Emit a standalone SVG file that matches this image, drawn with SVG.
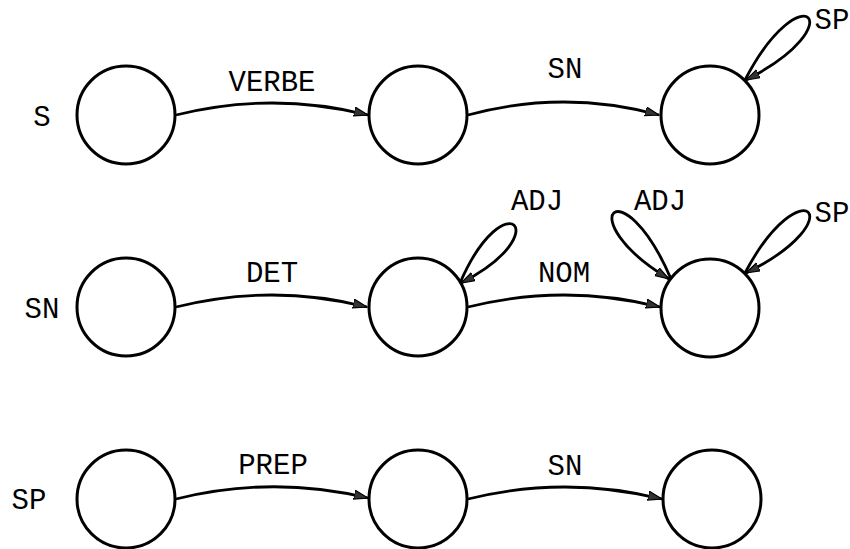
<svg xmlns="http://www.w3.org/2000/svg" width="850" height="549" viewBox="0 0 850 549">
<style>
.st{fill:none;stroke:#000;stroke-width:3}
.ed{fill:none;stroke:#000;stroke-width:2.8;marker-end:url(#ah)}
.t{font-family:"Liberation Mono","DejaVu Sans Mono",monospace;font-size:29px;fill:#000;text-anchor:middle}
</style>
<defs>
<marker id="ah" markerUnits="userSpaceOnUse" markerWidth="16" markerHeight="12" refX="14" refY="5" orient="auto">
<path d="M0,0.5 L14,5 L0,9.5 Z" fill="#333" stroke="#000" stroke-width="1.2"/>
</marker>
</defs>
<rect width="850" height="549" fill="#fff"/>
<g id="labels">
<text class="t" x="42" y="126">S</text>
<text class="t" x="42" y="318">SN</text>
<text class="t" x="29" y="509">SP</text>
</g>
<g id="S0"><circle class="st" cx="126" cy="115" r="49"/></g>
<g id="S1"><circle class="st" cx="418" cy="115" r="49"/></g>
<g id="S2"><circle class="st" cx="710" cy="115" r="49"/></g>
<g id="SN0"><circle class="st" cx="126" cy="307" r="49"/></g>
<g id="SN1"><circle class="st" cx="418" cy="307" r="49"/></g>
<g id="SN2"><circle class="st" cx="710" cy="308" r="49"/></g>
<g id="SP0"><circle class="st" cx="126" cy="499" r="49"/></g>
<g id="SP1"><circle class="st" cx="418" cy="499" r="49"/></g>
<g id="SP2"><circle class="st" cx="712" cy="499" r="49"/></g>
<g id="connectors">
<path class="ed" d="M176,115 Q272,91 368,115"/>
<path class="ed" d="M468,115 Q564,89 659,115"/>
<path class="ed" d="M745,80 C802,-30 856,24 746,80"/>
<path class="ed" d="M176,307 Q272,283 367,307"/>
<path class="ed" d="M468,307 Q564,283 660,307"/>
<path class="ed" d="M460,283 C505,179 559,233 461,283"/>
<path class="ed" d="M671,279 C622,164 568,218 669,279"/>
<path class="ed" d="M745,273 C802,165 856,219 746,273"/>
<path class="ed" d="M176,499 Q272,475 368,498"/>
<path class="ed" d="M468,499 Q564,475 662,499"/>
<text class="t" x="272" y="91">VERBE</text>
<text class="t" x="565" y="78">SN</text>
<text class="t" x="832" y="29">SP</text>
<text class="t" x="272" y="282">DET</text>
<text class="t" x="564" y="282">NOM</text>
<text class="t" x="537" y="210">ADJ</text>
<text class="t" x="660" y="210">ADJ</text>
<text class="t" x="832" y="222">SP</text>
<text class="t" x="273" y="474">PREP</text>
<text class="t" x="565" y="475">SN</text>
</g>
</svg>
